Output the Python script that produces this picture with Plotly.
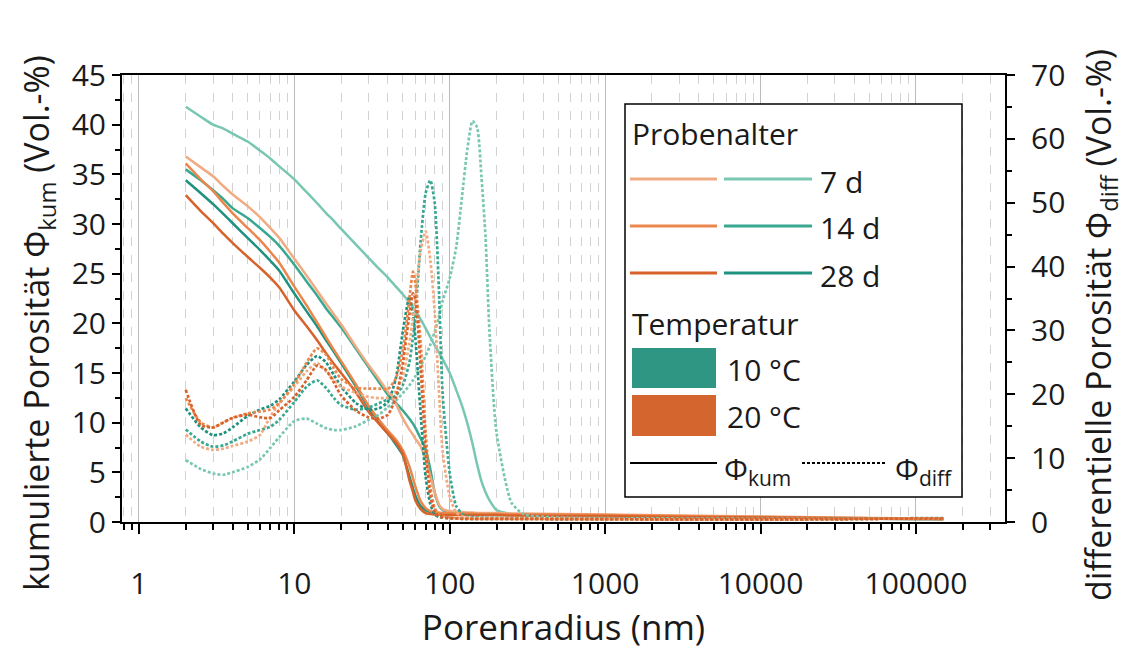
import plotly.graph_objects as go

# Pore radius grid (nm)
radius_nm = [2, 2.5, 3, 3.5, 4, 5, 6, 7, 8, 10, 12, 14, 16, 18, 20, 25, 30, 35, 40, 45,
             50, 55, 58, 60, 65, 70, 75, 80, 85, 90, 100, 110, 120, 130, 140, 150, 160,
             170, 180, 200, 250, 300, 500, 1000, 3000, 10000, 30000, 100000, 150000]

# Cumulative porosity (Vol.-%), left axis
kum_10c_7d = [41.8, 40.8, 40.0, 39.6, 39.1, 38.3, 37.4, 36.6, 35.8, 34.5, 33.2, 32.1, 31.1, 30.3, 29.5,
              27.9, 26.6, 25.5, 24.6, 23.7, 22.9, 22.1, 21.6, 21.3, 20.4, 19.5, 18.6, 17.8, 17.1, 16.4,
              15.0, 13.3, 11.7, 9.9, 7.9, 5.8, 4.1, 3.0, 2.2, 1.2, 0.8, 0.7, 0.65, 0.6, 0.5,
              0.45, 0.38, 0.3, 0.3]
kum_10c_14d = [35.5, 34.4, 33.4, 32.5, 31.6, 30.6, 29.6, 28.7, 27.8, 25.9, 24.2, 22.8, 21.5, 20.5, 19.6,
               17.4, 15.6, 14.1, 12.8, 12.0, 11.2, 10.4, 9.9, 9.5, 8.4, 7.3, 5.3, 3.0, 1.7, 1.2,
               1.0, 0.9, 0.85, 0.85, 0.8, 0.8, 0.8, 0.8, 0.8, 0.8, 0.75, 0.75, 0.7, 0.65, 0.55,
               0.5, 0.4, 0.35, 0.3]
kum_10c_28d = [34.4, 33.1, 32.0, 31.0, 30.1, 28.6, 27.4, 26.3, 25.3, 23.0, 21.2, 19.7, 18.3, 17.1, 16.0,
               13.6, 11.5, 10.0, 8.9, 7.8, 6.7, 4.6, 3.4, 2.7, 1.6, 1.2, 1.0, 0.9, 0.85, 0.8,
               0.8, 0.75, 0.75, 0.75, 0.7, 0.7, 0.7, 0.7, 0.7, 0.7, 0.7, 0.7, 0.65, 0.6, 0.5,
               0.45, 0.38, 0.3, 0.3]
kum_20c_7d = [36.8, 35.7, 34.8, 33.8, 33.0, 31.8, 30.7, 29.6, 28.6, 26.5, 24.8, 23.3, 22.0, 20.9, 19.9,
              17.6, 15.8, 14.4, 13.1, 11.9, 10.4, 9.3, 8.8, 8.4, 7.6, 6.2, 4.6, 3.0, 1.8, 1.3,
              1.1, 1.0, 1.0, 0.95, 0.95, 0.9, 0.9, 0.9, 0.9, 0.9, 0.85, 0.85, 0.8, 0.75, 0.65,
              0.55, 0.45, 0.35, 0.3]
kum_20c_14d = [36.1, 34.5, 33.3, 32.1, 31.1, 29.6, 28.4, 27.2, 26.1, 23.7, 21.8, 20.1, 18.6, 17.3, 16.2,
               13.8, 11.7, 10.3, 9.2, 8.3, 7.2, 5.6, 4.4, 3.6, 2.1, 1.4, 1.1, 1.0, 0.95, 0.9,
               0.9, 0.85, 0.85, 0.85, 0.85, 0.8, 0.8, 0.8, 0.8, 0.8, 0.75, 0.75, 0.75, 0.7, 0.6,
               0.5, 0.42, 0.35, 0.3]
kum_20c_28d = [32.9, 31.3, 30.1, 29.0, 28.1, 26.7, 25.6, 24.6, 23.6, 21.3, 19.7, 18.3, 17.0, 15.9, 15.0,
               13.0, 11.1, 9.9, 8.9, 8.0, 6.8, 4.2, 3.0, 2.2, 1.3, 0.9, 0.8, 0.75, 0.75, 0.7,
               0.7, 0.7, 0.7, 0.7, 0.7, 0.7, 0.7, 0.7, 0.7, 0.7, 0.65, 0.65, 0.6, 0.6, 0.5,
               0.45, 0.38, 0.3, 0.3]

# Differential porosity (Vol.-%), right axis
diff_10c_7d = [9.7, 8.3, 7.6, 7.4, 7.8, 8.6, 9.8, 11.6, 13.3, 15.8, 16.2, 15.4, 14.7, 14.4, 14.4,
               15.0, 16.0, 16.8, 18.0, 19.0, 20.2, 21.4, 22.2, 22.8, 24.4, 26.0, 27.8, 29.8, 32.0, 34.6,
               38.2, 43.0, 51.0, 58.5, 62.8, 61.8, 54.0, 44.5, 30.0, 14.0, 3.0, 1.2, 0.7, 0.6, 0.55,
               0.5, 0.5, 0.55, 0.55]
diff_10c_14d = [14.5, 12.6, 11.8, 12.0, 12.6, 13.8, 14.4, 14.9, 16.0, 18.8, 21.2, 22.2, 21.0, 19.4, 18.3,
                17.6, 17.9, 18.6, 19.2, 19.8, 21.5, 25.0, 29.0, 32.0, 44.0, 51.5, 53.5, 50.0, 37.0, 20.0,
                7.6, 2.5, 1.3, 0.9, 0.8, 0.7, 0.65, 0.6, 0.6, 0.6, 0.55, 0.55, 0.5, 0.45, 0.4,
                0.4, 0.45, 0.6, 0.6]
diff_10c_28d = [17.8, 14.8, 13.6, 13.9, 14.8, 16.6, 17.6, 18.2, 19.2, 22.0, 24.6, 26.0, 25.0, 23.0, 21.2,
                18.6, 17.6, 17.8, 18.8, 22.5, 30.0, 35.3, 32.5, 29.0, 17.0, 7.0, 2.8, 1.2, 0.8, 0.7,
                0.6, 0.55, 0.5, 0.5, 0.5, 0.5, 0.5, 0.5, 0.5, 0.5, 0.5, 0.5, 0.45, 0.45, 0.4,
                0.4, 0.45, 0.55, 0.55]
diff_20c_7d = [13.7, 11.8, 11.3, 11.5, 11.9, 12.6, 13.6, 16.5, 18.6, 21.2, 23.6, 24.9, 23.6, 22.2, 21.2,
               20.2, 19.6, 19.4, 19.5, 20.5, 23.0, 28.0, 32.0, 35.0, 42.5, 45.5, 41.0, 33.0, 21.0, 11.0,
               4.0, 1.5, 0.9, 0.7, 0.6, 0.6, 0.55, 0.55, 0.55, 0.55, 0.5, 0.5, 0.5, 0.45, 0.4,
               0.4, 0.45, 0.55, 0.55]
diff_20c_14d = [19.4, 15.6, 14.8, 15.6, 16.3, 17.0, 17.3, 17.6, 18.6, 21.6, 25.0, 27.2, 26.2, 24.0, 22.4,
                21.0, 20.9, 20.9, 20.8, 22.5, 27.0, 35.0, 39.2, 37.5, 28.0, 14.0, 5.5, 2.2, 1.2, 0.9,
                0.7, 0.6, 0.55, 0.55, 0.5, 0.5, 0.5, 0.5, 0.5, 0.5, 0.5, 0.5, 0.45, 0.45, 0.4,
                0.4, 0.45, 0.55, 0.55]
diff_20c_28d = [20.7, 15.2, 14.8, 15.6, 16.3, 16.8, 16.4, 16.3, 17.5, 19.6, 22.2, 24.5, 23.8, 21.8, 19.8,
                17.4, 16.4, 16.2, 16.8, 19.5, 25.0, 32.5, 35.8, 35.0, 24.0, 11.0, 4.0, 1.6, 0.9, 0.7,
                0.6, 0.55, 0.5, 0.5, 0.5, 0.5, 0.5, 0.5, 0.5, 0.5, 0.5, 0.5, 0.45, 0.45, 0.4,
                0.4, 0.45, 0.55, 0.55]

x_tick_vals = [1, 10, 100, 1000, 10000, 100000]
x_tick_text = ["1", "10", "100", "1000", "10000", "100000"]

# Colours per temperature and sample age
TEAL = {"7 d": "#79C7B3", "14 d": "#38A891", "28 d": "#1E917F"}
ORANGE = {"7 d": "#F1AB82", "14 d": "#EB874C", "28 d": "#D8622B"}
TEAL_BOX = "#2E9683"
ORANGE_BOX = "#D4652F"

FONT = "Open Sans"
TXT = "#1a1a1a"

series = [
    ("10 °C · 7 d", kum_10c_7d, diff_10c_7d, TEAL["7 d"]),
    ("10 °C · 14 d", kum_10c_14d, diff_10c_14d, TEAL["14 d"]),
    ("10 °C · 28 d", kum_10c_28d, diff_10c_28d, TEAL["28 d"]),
    ("20 °C · 7 d", kum_20c_7d, diff_20c_7d, ORANGE["7 d"]),
    ("20 °C · 14 d", kum_20c_14d, diff_20c_14d, ORANGE["14 d"]),
    ("20 °C · 28 d", kum_20c_28d, diff_20c_28d, ORANGE["28 d"]),
]

fig = go.Figure()

# Differential curves (dotted, right axis)
for name, kum, diff, col in series:
    fig.add_trace(go.Scatter(
        x=radius_nm, y=diff, yaxis="y2", mode="lines", name=name + " Φdiff",
        line=dict(color=col, width=2.7, dash="3px,2px", shape="spline", smoothing=0.6),
        showlegend=False))

# Cumulative curves (solid, left axis)
for name, kum, diff, col in series:
    fig.add_trace(go.Scatter(
        x=radius_nm, y=kum, mode="lines", name=name + " Φkum",
        line=dict(color=col, width=2.5, shape="spline", smoothing=0.6),
        showlegend=False))

# Plot area in pixels
W, H = 1124, 650
L, R, T, B = 122, 1005, 75, 522


def px(x):
    return (x - L) / (R - L)


def py(y):
    return (B - y) / (B - T)


minor_x = [k * 10 ** n for n in range(-1, 6) for k in range(2, 10)]
minor_x = [v for v in minor_x if 0.78 <= v <= 368000]

axis_common = dict(showline=True, linewidth=2, linecolor="black", ticks="outside",
                   tickwidth=2, tickcolor="black", zeroline=False, automargin=False,
                   tickfont=dict(family=FONT, size=30, color=TXT))

fig.update_layout(
    width=W, height=H,
    margin=dict(l=L, r=W - R, t=T, b=H - B),
    paper_bgcolor="white", plot_bgcolor="white",
    font=dict(family=FONT, color=TXT),
    xaxis=dict(
        type="log", range=[-0.109, 5.573],
        tickvals=x_tick_vals, ticktext=x_tick_text, ticklen=10,
        ticklabelstandoff=24,
        showgrid=True, gridcolor="#BBBBBB", gridwidth=1.2,
        mirror=True,
        minor=dict(tickvals=minor_x, ticks="outside", ticklen=6, tickwidth=1.5,
                   tickcolor="black", showgrid=True, gridcolor="#D2D2D2",
                   griddash="dash", gridwidth=1),
        title=dict(text="Porenradius (nm)", font=dict(family=FONT, size=35, color=TXT),
                   standoff=11),
        **axis_common,
    ),
    yaxis=dict(
        range=[0, 45], dtick=5, ticklen=8, showgrid=False,
        minor=dict(dtick=2.5, ticks="outside", ticklen=5, tickwidth=1.5, tickcolor="black"),
        **axis_common,
    ),
    yaxis2=dict(
        range=[0, 70], dtick=10, ticklen=8, showgrid=False, overlaying="y", side="right",
        ticklabelstandoff=10,
        minor=dict(dtick=5, ticks="outside", ticklen=5, tickwidth=1.5, tickcolor="black"),
        **axis_common,
    ),
)

# Axis titles for the two y axes
fig.add_annotation(x=px(38), y=py(323), xref="paper", yref="paper", textangle=-90,
                   text="kumulierte Porosität Φ<sub>kum</sub> (Vol.-%)", showarrow=False,
                   xanchor="center", yanchor="middle",
                   font=dict(family=FONT, size=34, color=TXT))
fig.add_annotation(x=px(1100), y=py(325), xref="paper", yref="paper", textangle=-90,
                   text="differentielle Porosität Φ<sub>diff</sub> (Vol.-%)", showarrow=False,
                   xanchor="center", yanchor="middle",
                   font=dict(family=FONT, size=34, color=TXT))

# Custom legend box
shapes = [dict(type="rect", xref="paper", yref="paper", x0=px(625), x1=px(962),
               y0=py(497), y1=py(104), line=dict(color="black", width=1.5),
               fillcolor="white", layer="above")]


def legend_text(x, y, text, size=30):
    fig.add_annotation(x=px(x), y=py(y), xref="paper", yref="paper", text=text,
                       showarrow=False, xanchor="left", yanchor="middle",
                       font=dict(family=FONT, size=size, color=TXT))


legend_text(630, 133, "Probenalter")
for age, yrow in [("7 d", 179), ("14 d", 226), ("28 d", 273)]:
    shapes.append(dict(type="line", xref="paper", yref="paper", x0=px(630), x1=px(717),
                       y0=py(yrow), y1=py(yrow), line=dict(color=ORANGE[age], width=3),
                       layer="above"))
    shapes.append(dict(type="line", xref="paper", yref="paper", x0=px(724), x1=px(812),
                       y0=py(yrow), y1=py(yrow), line=dict(color=TEAL[age], width=3),
                       layer="above"))
    legend_text(818, yrow + 2, age)

legend_text(630, 323, "Temperatur")
for label, col, y0, y1 in [("10 °C", TEAL_BOX, 348, 388), ("20 °C", ORANGE_BOX, 395, 436)]:
    shapes.append(dict(type="rect", xref="paper", yref="paper", x0=px(632), x1=px(716),
                       y0=py(y1), y1=py(y0), line=dict(width=0), fillcolor=col, layer="above"))
    legend_text(725, (y0 + y1) / 2 + 1, label)

shapes.append(dict(type="line", xref="paper", yref="paper", x0=px(630), x1=px(717),
                   y0=py(463), y1=py(463), line=dict(color="black", width=2), layer="above"))
shapes.append(dict(type="line", xref="paper", yref="paper", x0=px(802), x1=px(887),
                   y0=py(463), y1=py(463), line=dict(color="black", width=2, dash="3px,2px"),
                   layer="above"))
legend_text(722, 470, "Φ<sub>kum</sub>")
legend_text(893, 470, "Φ<sub>diff</sub>")

fig.update_layout(shapes=shapes)

fig.write_html("out.html")
